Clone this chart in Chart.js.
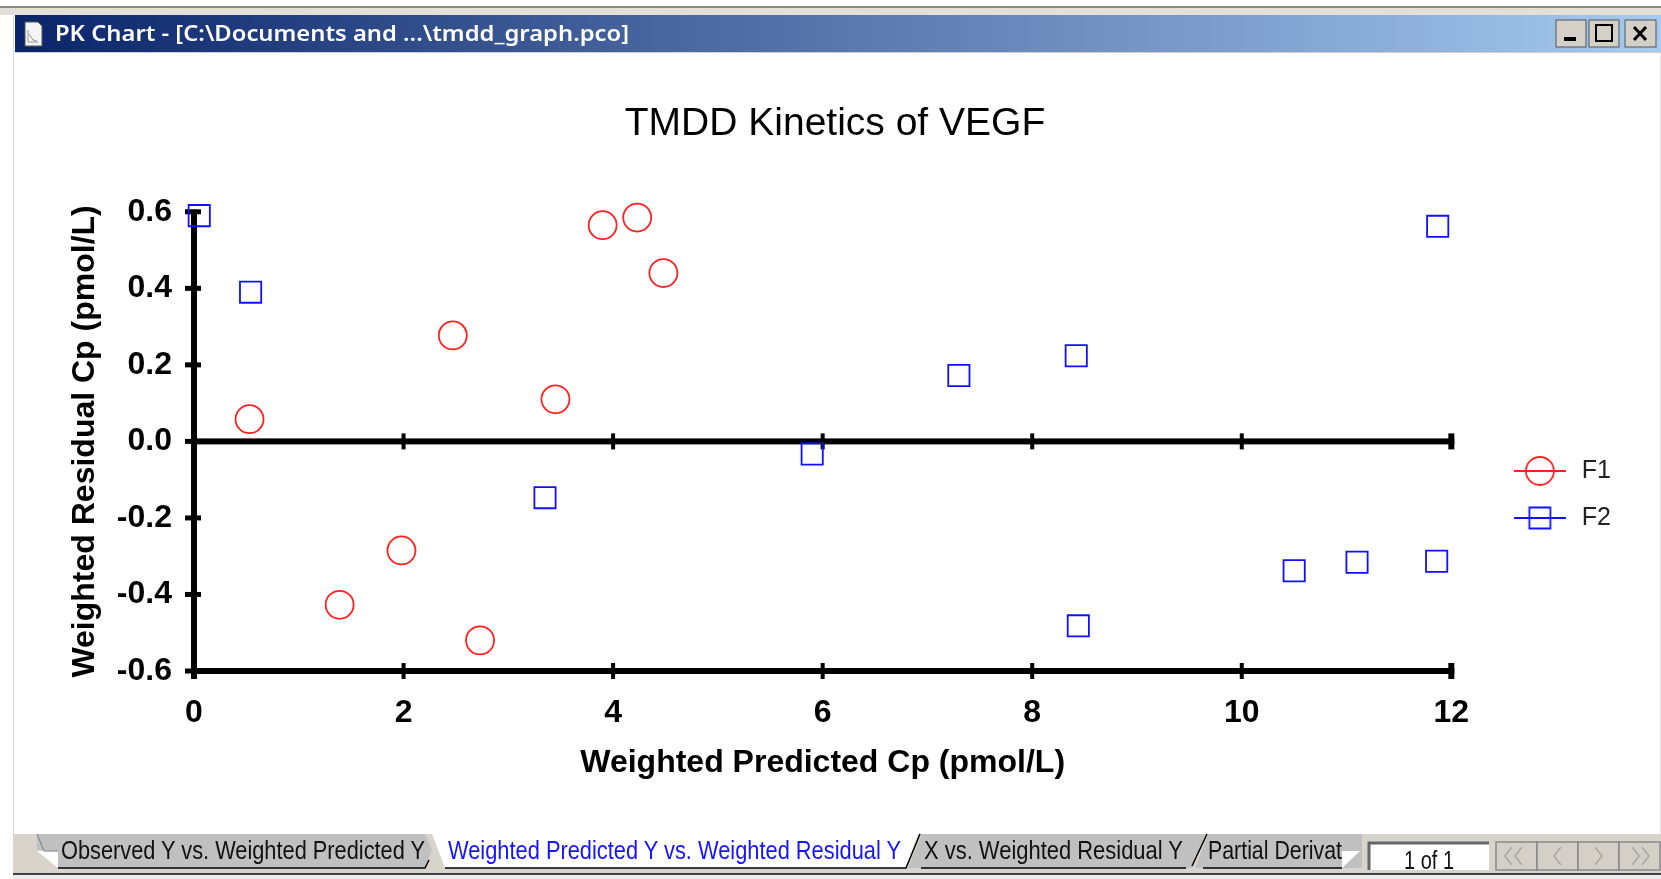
<!DOCTYPE html>
<html>
<head>
<meta charset="utf-8">
<title>TMDD Kinetics of VEGF</title>
<script src="https://cdn.jsdelivr.net/npm/chart.js@4/dist/chart.umd.min.js"></script>
<style>
    html, body { margin: 0; padding: 0; background: #fff; overflow: hidden; }
    #wrap { position: relative; width: 1661px; height: 879px; filter: blur(0.5px); }
    #myChart { position: absolute; left: 0; top: 0; }
    #chrome { position: absolute; left: 0; top: 0; pointer-events: none; }
</style>
</head>
<body>
<div id="wrap">
<canvas id="myChart" width="1661" height="879"></canvas>
<svg id="chrome" width="1661" height="879" font-family="Liberation Sans">
    <defs>
        <linearGradient id="bar" x1="0" x2="1" y1="0" y2="0">
            <stop offset="0" stop-color="#0a246a"/>
            <stop offset="1" stop-color="#a6caf0"/>
        </linearGradient>
    </defs>
    <!-- window frame -->
    <rect x="0" y="6" width="1661" height="2" fill="#8a8a80"/>
    <rect x="0" y="8" width="1661" height="7" fill="#e4e0d8"/>
    <rect x="13" y="15" width="1" height="820" fill="#d8d8d8"/>
    <rect x="1660" y="52" width="1" height="782" fill="#e4e4e4"/>
    <rect x="15" y="15" width="1646" height="37" fill="url(#bar)"/>
    <rect x="15" y="52" width="1646" height="1" fill="#d4d0c8"/>
    <path d="M25 22h13l4 4v20h-17z" fill="#f4f4f4" stroke="#555" stroke-width="1"/>
    <path d="M28 30v12h10M29 34l4 6l4 1" fill="none" stroke="#999" stroke-width="1"/>
    <text x="55" y="41" font-family="Noto Sans" font-size="22" font-weight="600" fill="#fff" textLength="574" lengthAdjust="spacingAndGlyphs">PK Chart - [C:\Documents and ...\tmdd_graph.pco]</text>
    <!-- window buttons -->
    <g fill="#d4d0c8" stroke="#555" stroke-width="1">
        <rect x="1556" y="20" width="30" height="27"/>
        <rect x="1589" y="20" width="30" height="27"/>
        <rect x="1625" y="20" width="31" height="27"/>
    </g>
    <rect x="1564" y="37" width="12" height="4" fill="#000"/>
    <rect x="1596" y="25" width="16" height="16" fill="none" stroke="#000" stroke-width="2"/>
    <path d="M1634 27l12 13M1646 27l-12 13" stroke="#000" stroke-width="3" fill="none"/>
    <!-- tab strip -->
    <rect x="13" y="834" width="1648" height="39" fill="#d8d4cc"/>
    <rect x="13" y="873" width="1648" height="2" fill="#444"/>
    <rect x="13" y="875" width="1648" height="4" fill="#eeeeee"/>
    <path d="M37 834H425L432 850L425 868H58V850H37Z" fill="#c0c0c0"/>
    <path d="M58 868H425L429 860" fill="none" stroke="#000" stroke-width="1.5"/>
    <path d="M37 851H58V868Z" fill="#fff"/>
    <path d="M37 834L44 851H58" fill="none" stroke="#777" stroke-width="1"/>
    <path d="M432 834H906L918 834L906 868H445Z" fill="#fff"/>
    <path d="M445 868H906L920 834" fill="none" stroke="#000" stroke-width="1.5"/>
    <path d="M922 834H1205L1192 868H921L908 868Z" fill="#c0c0c0"/>
    <path d="M921 868H1186M1192 866L1207 834" fill="none" stroke="#000" stroke-width="1.5"/>
    <path d="M1208 834H1362V868H1203L1195 868Z" fill="#c0c0c0"/>
    <path d="M1203 868H1342" fill="none" stroke="#000" stroke-width="1.5"/>
    <path d="M1342 868V851H1360Z" fill="#fff"/>
    <g font-size="25">
        <text x="61" y="859" fill="#111" textLength="364" lengthAdjust="spacingAndGlyphs">Observed Y vs. Weighted Predicted Y</text>
        <text x="448" y="859" fill="#1414ff" textLength="453" lengthAdjust="spacingAndGlyphs">Weighted Predicted Y vs. Weighted Residual Y</text>
        <text x="924" y="859" fill="#111" textLength="259" lengthAdjust="spacingAndGlyphs">X vs. Weighted Residual Y</text>
        <text x="1208" y="859" fill="#111" textLength="134" lengthAdjust="spacingAndGlyphs">Partial Derivat</text>
    </g>
    <!-- page box and buttons -->
    <rect x="1369" y="843" width="120" height="27" fill="#fff"/>
    <path d="M1369 870V843H1489" fill="none" stroke="#666" stroke-width="3"/>
    <text x="1429" y="869" font-size="25" text-anchor="middle" fill="#111" textLength="50" lengthAdjust="spacingAndGlyphs">1 of 1</text>
    <g fill="#d4d0c8" stroke="#888" stroke-width="1.5">
        <rect x="1496" y="842" width="41" height="28"/>
        <rect x="1537" y="842" width="41" height="28"/>
        <rect x="1578" y="842" width="41" height="28"/>
        <rect x="1619" y="842" width="41" height="28"/>
    </g>
    <g fill="none" stroke="#a8a8a0" stroke-width="1.5">
        <path d="M1512 847l-7 9l7 9M1522 847l-7 9l7 9"/>
        <path d="M1561 847l-7 9l7 9"/>
        <path d="M1595 847l7 9l-7 9"/>
        <path d="M1632 847l7 9l-7 9M1642 847l7 9l-7 9"/>
    </g>
</svg>
</div>
<script>
const f1X = [0.53, 1.39, 1.98, 2.47, 2.73, 3.45, 3.90, 4.23, 4.48];
const f1Y = [0.058, -0.427, -0.285, 0.277, -0.52, 0.11, 0.565, 0.585, 0.44];
const f2X = [0.05, 0.54, 3.35, 5.90, 7.30, 8.42, 8.44, 10.50, 11.10, 11.86, 11.87];
const f2Y = [0.59, 0.39, -0.147, -0.033, 0.172, 0.224, -0.482, -0.338, -0.316, -0.313, 0.562];
const xTicks = [0, 2, 4, 6, 8, 10, 12];
const yTicks = [-0.6, -0.4, -0.2, 0.0, 0.2, 0.4, 0.6];

const toPoints = (xs, ys) => xs.map((x, i) => ({ x: x, y: ys[i] }));

// Legend marker: a short line through the point symbol
function legendMarker(color, shape) {
    const c = document.createElement('canvas');
    c.width = 52;
    c.height = 30;
    const g = c.getContext('2d');
    g.strokeStyle = color;
    g.lineWidth = 1.8;
    g.beginPath();
    g.moveTo(0, 15);
    g.lineTo(52, 15);
    if (shape === 'circle') {
        g.moveTo(40, 15);
        g.arc(26, 15, 14, 0, Math.PI * 2);
    } else {
        g.rect(15.5, 4.5, 21, 21);
    }
    g.stroke();
    return c;
}

// Thick axes with ticks crossing the lines, one x axis at zero and one at the bottom
const axisLines = {
    id: 'axisLines',
    afterLayout(chart) {
        const legend = chart.legend;
        legend.top += 55;
        legend.bottom += 55;
        legend.left += 37;
        legend.right += 37;
        chart.titleBlock.left = 9;
        chart.titleBlock.right = 1661;
    },
    beforeDatasetsDraw(chart) {
        const { ctx, scales: { x, y } } = chart;
        ctx.save();
        ctx.fillStyle = '#000';
        const x0 = x.getPixelForValue(0);
        const x12 = x.getPixelForValue(12);
        const top = y.getPixelForValue(0.6);
        const bottom = y.getPixelForValue(-0.6);
        ctx.fillRect(x0 - 3, top - 2, 6, bottom - top + 10);
        [0, -0.6].forEach(v => {
            const py = y.getPixelForValue(v);
            ctx.fillRect(x0 - 3, py - 3, x12 - x0 + 6, 6);
            xTicks.forEach(t => {
                const w = t === 12 ? 6 : 4;
                ctx.fillRect(x.getPixelForValue(t) - w / 2, py - 8, w, 16);
            });
        });
        yTicks.forEach(t => {
            ctx.fillRect(x0 - 9, y.getPixelForValue(t) - 2.5, 16, 5);
        });
        ctx.restore();
    }
};

const ctx = document.getElementById('myChart').getContext('2d');

const myChart = new Chart(ctx, {
    type: 'scatter',
    data: {
        datasets: [
            {
                label: 'F1',
                data: toPoints(f1X, f1Y),
                borderColor: '#ff2020',
                backgroundColor: 'transparent',
                borderWidth: 1.8,
                pointStyle: 'circle',
                pointRadius: 14,
                clip: false,
                marker: legendMarker('#ff2020', 'circle')
            },
            {
                label: 'F2',
                data: toPoints(f2X, f2Y),
                borderColor: '#1010ff',
                backgroundColor: 'transparent',
                borderWidth: 1.8,
                pointStyle: 'rect',
                pointRadius: 15,
                clip: false,
                marker: legendMarker('#1010ff', 'rect')
            }
        ]
    },
    options: {
        responsive: false,
        animation: false,
        layout: { padding: { left: 0, top: 0, right: 77, bottom: 0 } },
        plugins: {
            tooltip: { enabled: false },
            title: {
                display: true,
                text: 'TMDD Kinetics of VEGF',
                color: '#000',
                font: { family: 'Liberation Sans', size: 39, weight: 'normal', lineHeight: 1.2 },
                padding: { top: 101, bottom: 64 }
            },
            legend: {
                display: true,
                position: 'right',
                onClick: null,
                labels: {
                    usePointStyle: true,
                    pointStyleWidth: 59,
                    padding: 22,
                    color: '#222',
                    font: { family: 'Liberation Sans', size: 25 },
                    generateLabels: chart => chart.data.datasets.map((d, i) => ({
                        text: d.label,
                        datasetIndex: i,
                        fontColor: '#222',
                        pointStyle: d.marker,
                        lineWidth: 0
                    }))
                }
            }
        },
        scales: {
            x: {
                type: 'linear',
                min: 0,
                max: 12,
                grid: { display: false },
                border: { display: false },
                afterBuildTicks: scale => { scale.ticks = xTicks.map(v => ({ value: v })); },
                afterFit: scale => { scale.height = 208; },
                ticks: {
                    color: '#000',
                    maxRotation: 0,
                    padding: 15,
                    font: { family: 'Liberation Sans', size: 32, weight: 'bold' }
                },
                title: {
                    display: true,
                    text: 'Weighted Predicted Cp (pmol/L)',
                    color: '#000',
                    font: { family: 'Liberation Sans', size: 32, weight: 'bold' },
                    padding: { top: 0, bottom: 97 }
                }
            },
            y: {
                type: 'linear',
                min: -0.6,
                max: 0.6,
                grid: { display: false },
                border: { display: false },
                afterBuildTicks: scale => { scale.ticks = yTicks.map(v => ({ value: v })); },
                afterFit: scale => { scale.width = 194; },
                ticks: {
                    color: '#000',
                    padding: 14,
                    font: { family: 'Liberation Sans', size: 32, weight: 'bold' },
                    callback: v => v.toFixed(1)
                },
                title: {
                    display: true,
                    text: 'Weighted Residual Cp (pmol/L)',
                    color: '#000',
                    font: { family: 'Liberation Sans', size: 32, weight: 'bold' },
                    padding: { top: 66, bottom: 0 }
                }
            }
        }
    },
    plugins: [axisLines]
});
</script>
</body>
</html>
